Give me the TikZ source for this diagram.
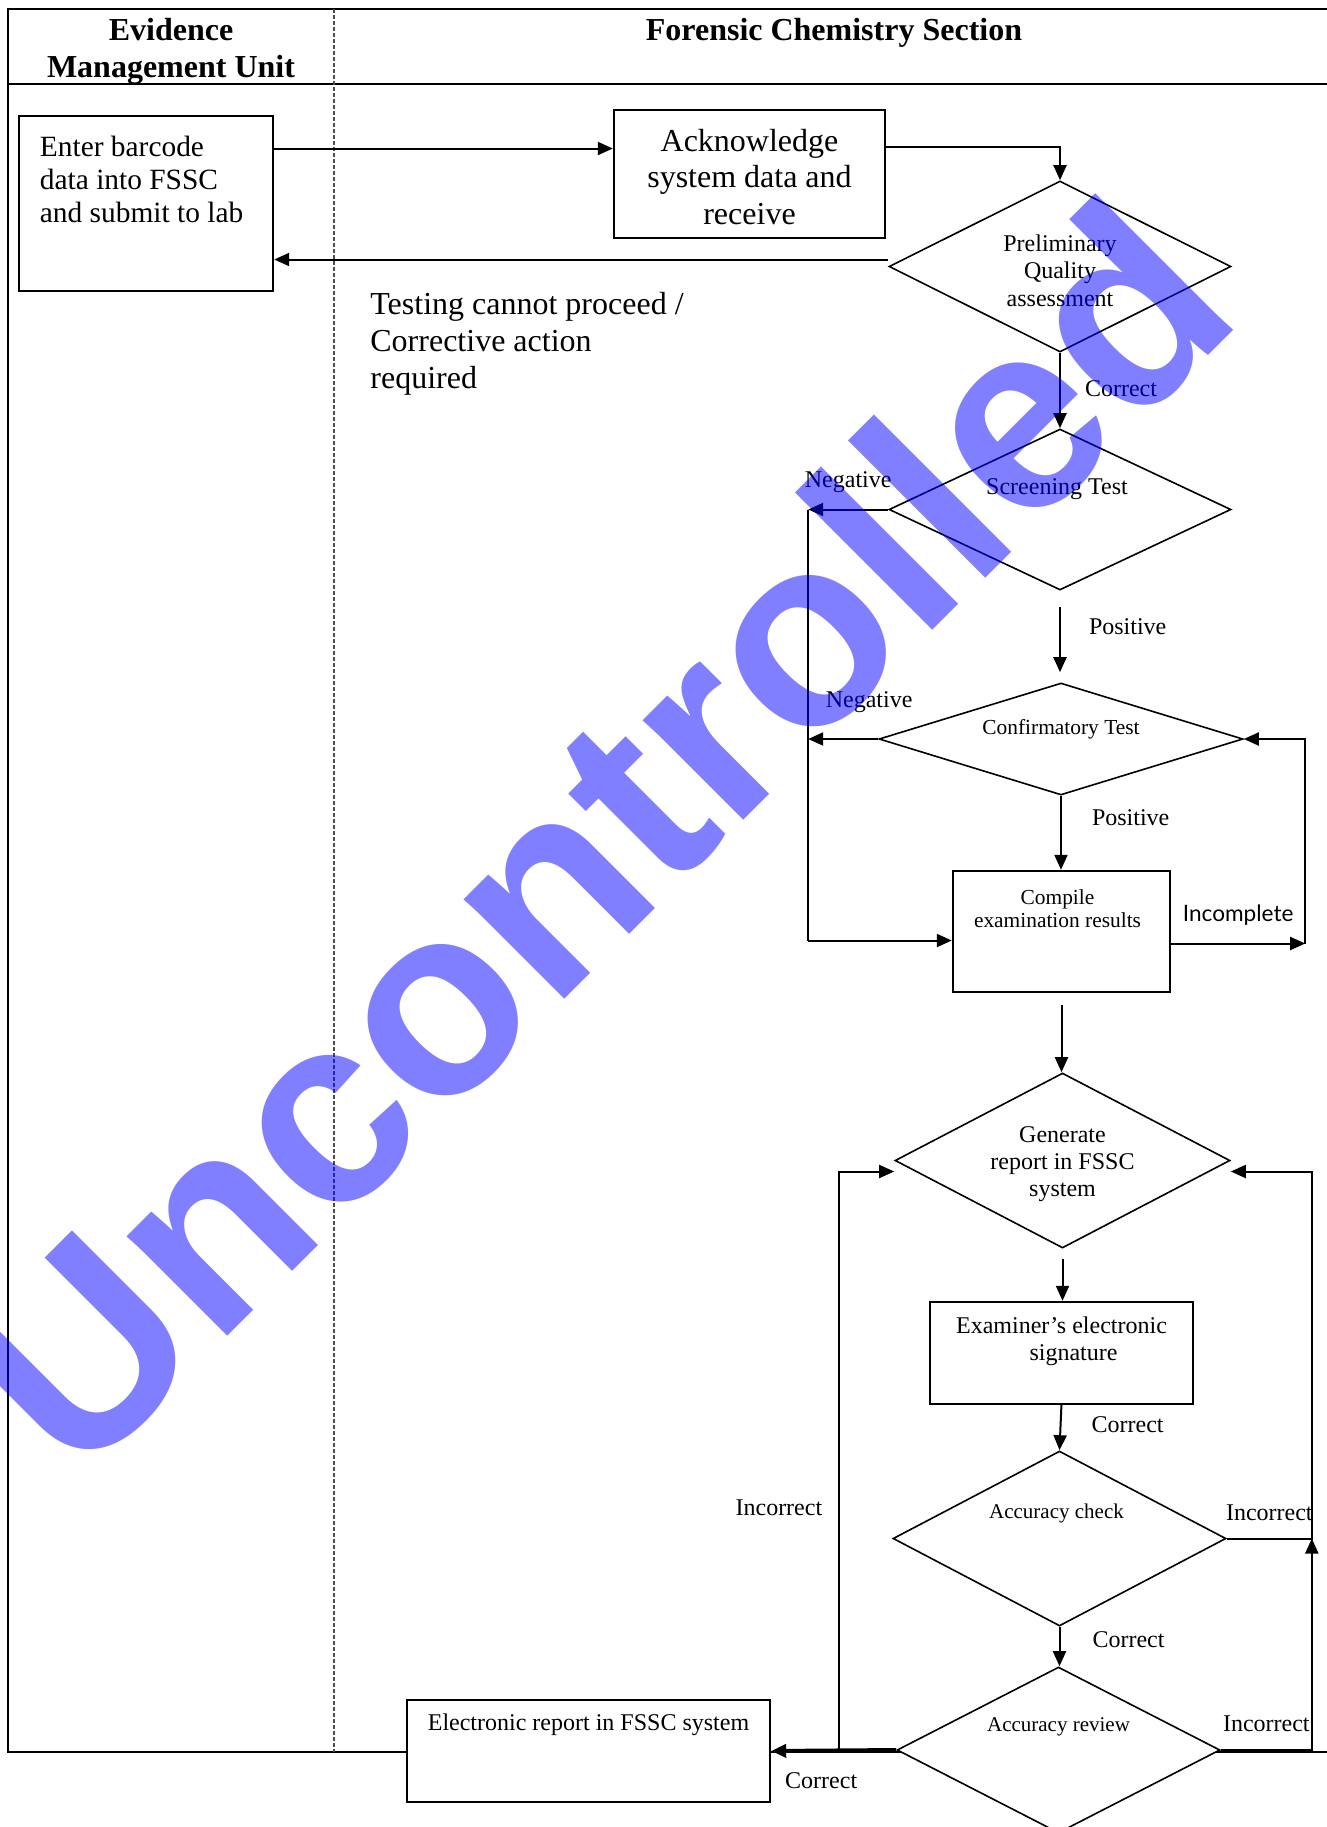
\documentclass[tikz,border=0pt]{standalone}
\usepackage{fontspec}
\setmainfont{Liberation Serif}
\newfontfamily\markfont{Liberation Sans}
\newfontfamily\notefont{Lato}
\usetikzlibrary{positioning,shapes.geometric,arrows.meta}
\newcommand\fsz[2]{\fontsize{#1}{#2}\selectfont}

\begin{document}
\begin{tikzpicture}[x=0.5pt,y=-0.5pt,
    box/.style={draw,line width=1.2pt,fill=white,inner sep=0pt},
    dmd/.style={draw,diamond,line width=0.8pt,fill=white,inner sep=0pt},
    txt/.style={align=center,inner sep=0pt},
    lab/.style={font=\fsz{12}{14},inner sep=0pt},
    arr/.style={-{Triangle[length=7.5pt,width=6.5pt]},line width=1pt}]
    \useasboundingbox (0,0) rectangle (1327,1827);

    % swim lanes
    \draw[line width=0.7pt] (1327,9) -- (8,9) -- (8,1752) -- (1327,1752);
    \draw[line width=0.7pt] (8,84) -- (1327,84);
    \draw[gray!60!black,dash pattern=on 2pt off 1pt,line width=0.6pt] (334,9) -- (334,1752);
    \node[txt,font=\fsz{16}{18.5}\bfseries] (emuhead) at (171,51) {Evidence\\Management Unit};
    \node[txt,font=\fsz{16}{18.5}\bfseries] (fcshead) at (834,32.5) {Forensic Chemistry Section};

    % steps
    \node[box,minimum width=127pt,minimum height=87.5pt,
        label={[txt,align=left,font=\fsz{14.7}{16.5},xshift=-2.2pt,yshift=12.2pt]center:Enter barcode\\data into FSSC\\and submit to lab}] (emu) at (146,203.5) {};
    \node[box,minimum width=135.5pt,minimum height=64pt,
        label={[txt,font=\fsz{16}{18.3},yshift=-1.5pt]center:Acknowledge\\system data and\\receive}] (ack) at (749.5,174) {};
    \node[dmd,minimum width=171pt,minimum height=85.5pt,
        label={[txt,font=\fsz{12}{13.75},yshift=-2pt]center:Preliminary\\Quality\\assessment}] (prelim) at (1060,266.5) {};
    \node[dmd,minimum width=171pt,minimum height=80.5pt,
        label={[txt,font=\fsz{12}{14},xshift=-1.5pt,yshift=10pt]center:Screening Test}] (screen) at (1060,509.5) {};
    \node[dmd,minimum width=182pt,minimum height=56pt,
        label={[txt,font=\fsz{10.7}{12},yshift=5pt]center:Confirmatory Test}] (confirm) at (1061,739) {};
    \node[box,minimum width=108.5pt,minimum height=60.5pt,
        label={[txt,font=\fsz{10.7}{11.5},xshift=-2pt,yshift=11.5pt]center:Compile\\examination results}] (compile) at (1061.5,931.5) {};
    \node[dmd,minimum width=167.5pt,minimum height=87.5pt,
        label={[txt,font=\fsz{12}{13.5},yshift=-2pt]center:Generate\\report in FSSC\\system}] (gen) at (1062.5,1160.5) {};
    \node[box,minimum width=131.5pt,minimum height=51pt,
        label={[txt,font=\fsz{12}{13.5},yshift=6pt]center:Examiner’s electronic\\\hspace*{12pt}signature}] (exam) at (1061.5,1353) {};
    \node[dmd,minimum width=166.5pt,minimum height=87.5pt,
        label={[txt,font=\fsz{10.5}{12},xshift=-1.5pt,yshift=12.5pt]center:Accuracy check}] (check) at (1059.5,1538.5) {};
    \node[dmd,minimum width=161.5pt,minimum height=83pt,
        label={[txt,font=\fsz{10.5}{12},yshift=11.5pt]center:Accuracy review}] (review) at (1058.5,1750) {};
    \node[box,minimum width=181.5pt,minimum height=51pt,
        label={[txt,font=\fsz{12}{14},yshift=13pt]center:Electronic report in FSSC system}] (report) at (588.5,1751) {};
    \node[txt,align=left,font=\fsz{16}{18.6},anchor=west] (fail) at (370,344) {Testing cannot proceed /\\Corrective action\\required};

    % flow
    \coordinate (a1) at ([yshift=27.5pt]emu.east);
    \draw[arr] (a1) -- (a1 -| ack.west);
    \draw[arr] ([yshift=13.5pt]ack.east) -| (prelim.north);
    \coordinate (q1) at ([yshift=3.5pt]prelim.west);
    \draw[arr] (q1) -- (q1 -| emu.east);
    \draw[arr] (prelim.south) -- node[lab,pos=.48,right=12pt]{Correct} (screen.north);
    \draw[arr] ([yshift=-8pt]screen.south) -- node[lab,pos=.31,right=14pt]{Positive} ([yshift=5pt]screen.south |- confirm.north);

    \coordinate[left=40pt of screen.west] (neg);
    \coordinate (n2) at ([yshift=-4.5pt]compile.west);
    \draw[arr] (screen.west) -- node[lab,above=8pt]{Negative} (neg);
    \draw[line width=1pt] (neg) -- (neg |- n2);
    \draw[arr] (neg |- n2) -- (n2);
    \draw[arr] (confirm.west) -- node[lab,pos=.13,above=12.5pt]{Negative} (confirm.west -| neg);
    \draw[arr] (confirm.south) -- node[lab,pos=.29,right=15pt]{Positive} (confirm.south |- compile.north);

    \coordinate (inc) at ([xshift=67pt,yshift=-6pt]compile.east);
    \draw[arr] ([yshift=-6pt]compile.east) -- node[lab,font=\notefont\fsz{11.3}{13},above=8.5pt]{Incomplete} (inc);
    \draw[arr] (inc) |- (confirm.east);

    \draw[arr] ([yshift=-6pt]compile.south) -- (compile.south |- gen.north);
    \draw[arr] ([yshift=-5pt]gen.south) -- (gen.south |- exam.north);
    \draw[arr] (exam.south |- check.north) ++(0,-47) -- node[lab,pos=.45,right=15pt]{Correct} (check.north);
    \draw[arr] (check.south) -- node[lab,pos=.32,right=16pt]{Correct} (check.south |- review.north);
    \draw[arr,line width=2pt] (review.west) -- node[lab,pos=.6,below=10pt]{Correct} (report.east);

    % loops back to the report
    \coordinate[right=34pt of report.east] (l1);
    \coordinate (g1) at ([yshift=-5.5pt]gen.west);
    \coordinate (g2) at ([yshift=-5.5pt]gen.east);
    \draw[arr] (l1) |- node[lab,pos=.21,left=8pt]{Incorrect} (g1);
    \coordinate[right=45.5pt of review.east] (r1);
    \coordinate (r2) at (r1 |- check.east);
    \draw[arr] (review.east) -- node[lab,above=8.5pt]{Incorrect} (r1) -- (r2);
    \draw[arr] (check.east) -- node[lab,above=8.5pt]{Incorrect} (r2) |- (g2);

    % watermark
    \node[font=\markfont\bfseries\fsz{134}{134},text=blue,text opacity=.5,rotate=45,inner sep=0pt] (stamp) at (594,834) {Uncontrolled};
\end{tikzpicture}
\end{document}
